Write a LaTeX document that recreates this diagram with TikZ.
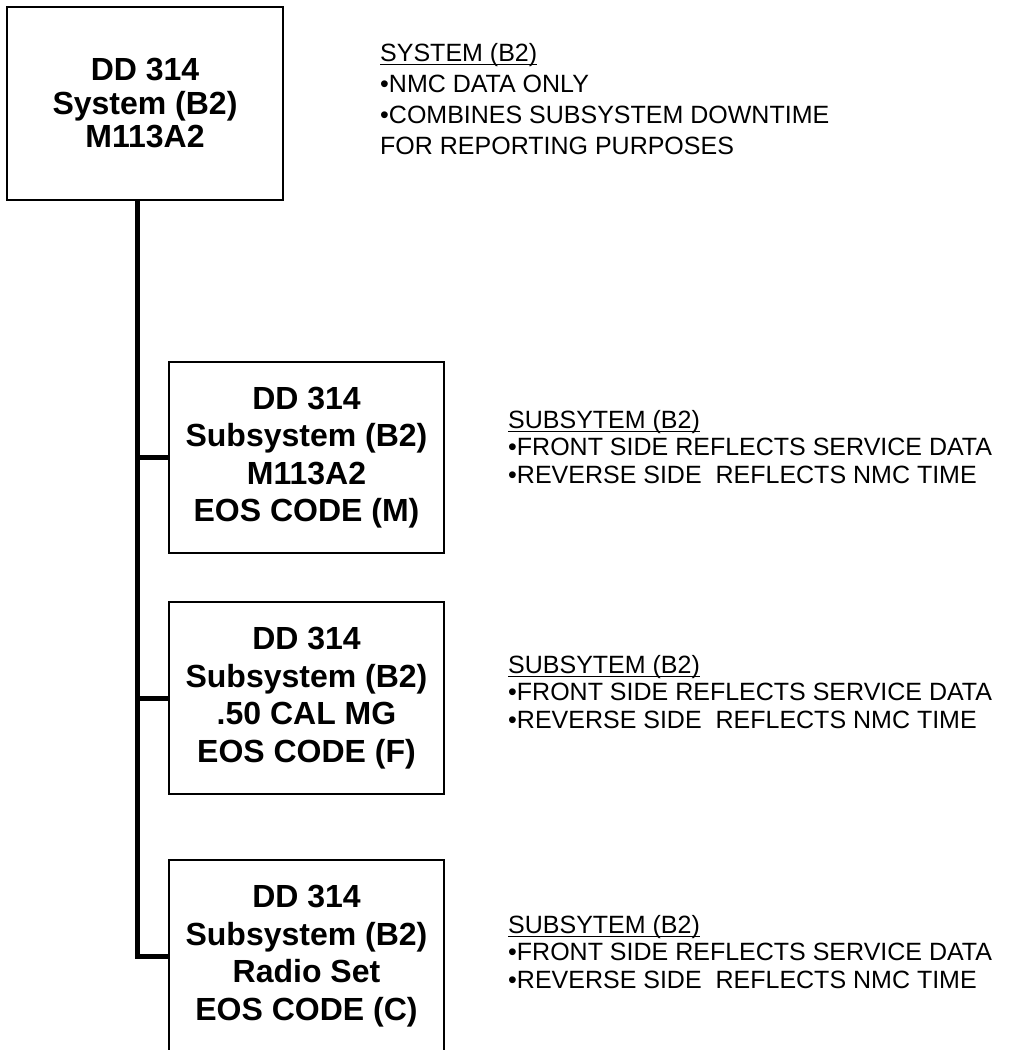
\documentclass[tikz,border=0pt]{standalone}
\usepackage{fontspec}
\setmainfont{Liberation Sans}
% underlined heading of a note, with the rule close to the baseline
\newcommand{\notehead}[1]{\setbox0\hbox{#1}\rlap{\rule[-4pt]{\wd0}{1.4pt}}\box0}
\begin{document}
\begin{tikzpicture}[x=1pt,y=-1pt,
    unitbox/.style={draw, line width=2pt, minimum width=276pt, minimum height=192pt,
      align=center, inner sep=0pt, font=\fontsize{32}{37.5}\selectfont\bfseries},
    notetext/.style={anchor=north west, align=left, inner sep=0pt,
      font=\fontsize{25}{27.5}\selectfont},
    spine/.style={line width=5pt, line join=miter}]
    \clip (0,0) rectangle (1034,1050);

    % Draw the system card and its note
    \node[unitbox, minimum height=193pt, font=\fontsize{32}{33.5}\selectfont\bfseries] (sys)
        at (145,103.5) {DD 314\\System (B2)\\M113A2};
    \node[notetext, font=\fontsize{25}{31}\selectfont] (sysnote) at (380,43)
        {\notehead{SYSTEM (B2)}\\•NMC DATA ONLY\\•COMBINES SUBSYSTEM DOWNTIME\\FOR REPORTING PURPOSES};

    % Draw the subsystem cards
    \node[unitbox, minimum width=275pt, minimum height=191pt] (hull) at (306.5,457.5)
        {DD 314\\Subsystem (B2)\\M113A2\\EOS CODE (M)};
    \node[unitbox, minimum width=275pt, minimum height=192pt] (gun) at (306.5,698)
        {DD 314\\Subsystem (B2)\\.50 CAL MG\\EOS CODE (F)};
    \node[unitbox, minimum width=275pt, minimum height=192pt] (radio) at (306.5,956)
        {DD 314\\Subsystem (B2)\\Radio Set\\EOS CODE (C)};

    % Draw the notes beside each subsystem card
    \node[notetext] (hullnote) at (508,410)
        {\notehead{SUBSYTEM (B2)}\\•FRONT SIDE REFLECTS SERVICE DATA\\•REVERSE SIDE\ \ REFLECTS NMC TIME};
    \node[notetext] (gunnote) at (508,655)
        {\notehead{SUBSYTEM (B2)}\\•FRONT SIDE REFLECTS SERVICE DATA\\•REVERSE SIDE\ \ REFLECTS NMC TIME};
    \node[notetext] (radionote) at (508,915)
        {\notehead{SUBSYTEM (B2)}\\•FRONT SIDE REFLECTS SERVICE DATA\\•REVERSE SIDE\ \ REFLECTS NMC TIME};

    % Draw the trunk line and the branches to the cards
    \coordinate (trunk) at (137.5,956);
    \draw[spine] (trunk |- sys.south) -- (trunk |- radio.west) -- (radio.west);
    \draw[spine] (trunk |- hull.west) -- (hull.west);
    \draw[spine] (trunk |- gun.west) -- (gun.west);
\end{tikzpicture}
\end{document}
